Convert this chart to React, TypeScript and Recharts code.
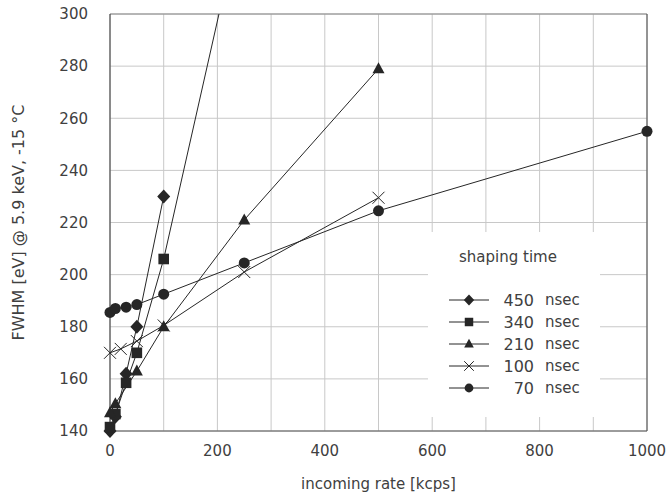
import React from "react"
import {
  LineChart,
  Line,
  XAxis,
  YAxis,
  CartesianGrid,
  Legend,
  ReferenceLine,
} from "recharts"

// incoming rate [kcps] and FWHM [eV] per shaping time
const rate450 = [0, 10, 30, 50, 100]
const fwhm450 = [140, 145.5, 162, 180, 230]
const rate340 = [0, 10, 30, 50, 100, 250]
const fwhm340 = [141.5, 146.5, 158.5, 170, 206, 343]
const rate210 = [0, 10, 50, 100, 250, 500]
const fwhm210 = [147, 150.5, 163, 180, 221, 279]
const rate100 = [0, 20, 50, 100, 250, 500]
const fwhm100 = [170, 171.5, 174.5, 180.5, 201, 229.5]
const rate70 = [0, 10, 30, 50, 100, 250, 500, 1000]
const fwhm70 = [185.5, 187, 187.5, 188.5, 192.5, 204.5, 224.5, 255]

const shapingTimes = ["450", "340", "210", "100", "70"]
const xTicks = [0, 100, 200, 300, 400, 500, 600, 700, 800, 900, 1000]
const yTicks = [140, 160, 180, 200, 220, 240, 260, 280, 300]

const Y_MAX = 300
const INK = "#262626"
const TEXT = "#404040"
const FONT = "'DejaVu Sans', sans-serif"

type Pt = { x: number; y: number }
const toPoints = (xs: number[], ys: number[]): Pt[] =>
  xs.map((x, i) => ({ x, y: ys[i] }))

type Shape = "diamond" | "square" | "triangle" | "cross" | "circle"

function Marker({ shape, cx, cy, s = 1 }: { shape: Shape; cx: number; cy: number; s?: number }) {
  if (shape === "diamond") {
    const w = 6.5 * s
    const h = 7 * s
    return (
      <polygon
        points={`${cx},${cy - h} ${cx + w},${cy} ${cx},${cy + h} ${cx - w},${cy}`}
        fill={INK}
      />
    )
  }
  if (shape === "square") {
    const h = 5.3 * s
    return <rect x={cx - h} y={cy - h} width={h * 2} height={h * 2} fill={INK} />
  }
  if (shape === "triangle") {
    const w = 6 * s
    return (
      <polygon
        points={`${cx},${cy - 6.5 * s} ${cx + w},${cy + 4.5 * s} ${cx - w},${cy + 4.5 * s}`}
        fill={INK}
      />
    )
  }
  if (shape === "cross") {
    const h = 6 * s
    return (
      <g stroke={INK} strokeWidth={1}>
        <line x1={cx - h} y1={cy - h} x2={cx + h} y2={cy + h} />
        <line x1={cx - h} y1={cy + h} x2={cx + h} y2={cy - h} />
      </g>
    )
  }
  return <circle cx={cx} cy={cy} r={5.5 * s} fill={INK} />
}

const series = [
  { name: shapingTimes[0], shape: "diamond" as Shape, pts: toPoints(rate450, fwhm450) },
  { name: shapingTimes[1], shape: "square" as Shape, pts: toPoints(rate340, fwhm340) },
  { name: shapingTimes[2], shape: "triangle" as Shape, pts: toPoints(rate210, fwhm210) },
  { name: shapingTimes[3], shape: "cross" as Shape, pts: toPoints(rate100, fwhm100) },
  { name: shapingTimes[4], shape: "circle" as Shape, pts: toPoints(rate70, fwhm70) },
]

function ShapingLegend() {
  return (
    <div style={{ width: 172, height: 185, background: "#fff" }}>
      <svg width={172} height={185} style={{ display: "block" }}>
        <text
          x={80}
          y={25}
          textAnchor="middle"
          dominantBaseline="central"
          fontFamily={FONT}
          fontSize={15}
          fill={TEXT}
        >
          shaping time
        </text>
        {series.map((s, i) => {
          const y = 68 + i * 22
          return (
            <g key={s.name}>
              <line x1={21} y1={y} x2={61} y2={y} stroke={INK} strokeWidth={1} />
              <Marker shape={s.shape} cx={41} cy={y} s={0.8} />
              <text
                x={106}
                y={y}
                textAnchor="end"
                dominantBaseline="central"
                fontFamily={FONT}
                fontSize={16}
                fill={TEXT}
              >
                {s.name}
              </text>
              <text
                x={117}
                y={y}
                dominantBaseline="central"
                fontFamily={FONT}
                fontSize={15}
                fill={TEXT}
              >
                nsec
              </text>
            </g>
          )
        })}
      </svg>
    </div>
  )
}

export default function App() {
  return (
    <div style={{ position: "absolute", left: 0, top: 0 }}>
      <LineChart
        width={672}
        height={498}
        margin={{ top: 14, right: 25, left: 0, bottom: 0 }}
        style={{ fontFamily: FONT }}
      >
        <CartesianGrid stroke="#c8c8c8" strokeWidth={1} />
        <XAxis
          type="number"
          dataKey="x"
          domain={[0, 1000]}
          ticks={xTicks}
          tickFormatter={(v: number) => (v % 200 === 0 ? String(v) : "")}
          interval={0}
          height={67}
          tickLine={false}
          tickSize={0}
          tickMargin={14}
          axisLine={{ stroke: "#555" }}
          tick={{ fill: TEXT, fontSize: 15 }}
          label={{
            value: "incoming rate [kcps]",
            position: "insideBottom",
            offset: 9,
            fill: TEXT,
            fontSize: 15,
          }}
        />
        <YAxis
          type="number"
          dataKey="y"
          domain={[140, Y_MAX]}
          ticks={yTicks}
          interval={0}
          width={110}
          tickLine={false}
          tickSize={0}
          tickMargin={22}
          axisLine={{ stroke: "#333" }}
          tick={{ fill: TEXT, fontSize: 15 }}
          label={{
            value: "FWHM [eV] @ 5.9 keV, -15 °C",
            angle: -90,
            position: "center",
            dx: -37,
            fill: TEXT,
            fontSize: 16,
          }}
        />
        <ReferenceLine y={Y_MAX} stroke="#888" />
        <ReferenceLine x={1000} stroke="#444" />
        {series.map((s) => {
          const shown = s.pts.filter((p) => p.y <= Y_MAX)
          const hidden = s.pts.filter((p) => p.y > Y_MAX)
          return (
            <React.Fragment key={s.name}>
              {hidden.length > 0 && (
                <ReferenceLine
                  segment={[shown[shown.length - 1], hidden[0]]}
                  stroke={INK}
                  strokeWidth={1}
                  ifOverflow="hidden"
                />
              )}
              <Line
                data={shown}
                dataKey="y"
                name={s.name}
                stroke={INK}
                strokeWidth={1}
                isAnimationActive={false}
                legendType="none"
                dot={(p: any) => (
                  <Marker key={`${s.name}-${p.index}`} shape={s.shape} cx={p.cx} cy={p.cy} />
                )}
                activeDot={false}
              />
            </React.Fragment>
          )
        })}
        <Legend
          layout="vertical"
          align="center"
          verticalAlign="middle"
          wrapperStyle={{ position: "absolute", left: 428, top: 232, width: 172, height: 185 }}
          content={() => <ShapingLegend />}
        />
      </LineChart>
    </div>
  )
}
